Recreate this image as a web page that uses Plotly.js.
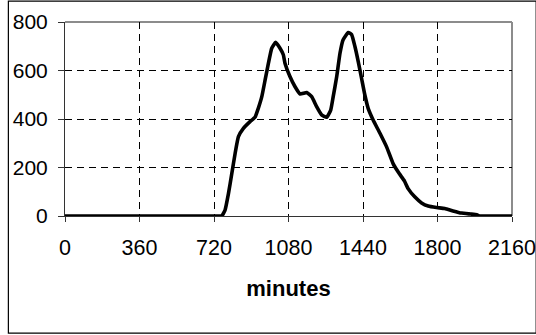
<!DOCTYPE html>
<html>
<head>
<meta charset="utf-8">
<script src="https://cdn.plot.ly/plotly-3.0.1.min.js"></script>
<style>html,body{margin:0;padding:0;background:#fff;}#chart{width:536px;height:335px;}</style>
</head>
<body>
<div id="chart"></div>
<script>
const minutes = [0, 360, 720, 745, 757, 773, 790, 806, 822, 838, 862, 894, 918, 934, 951, 967, 983, 999, 1018, 1039, 1055, 1063, 1087, 1111, 1136, 1168, 1192, 1216, 1240, 1264, 1284, 1296, 1313, 1329, 1344, 1369, 1385, 1401, 1417, 1433, 1449, 1465, 1489, 1522, 1554, 1586, 1615, 1640, 1658, 1690, 1723, 1755, 1795, 1835, 1875, 1916, 1960, 1990, 2005, 2080, 2160];
const counts  = [0, 0, 0, 0, 0, 23, 93, 175, 258, 327, 361, 389, 407, 444, 492, 561, 630, 692, 716, 692, 665, 630, 575, 534, 503, 509, 492, 451, 417, 407, 437, 492, 575, 672, 727, 757, 748, 699, 637, 568, 499, 444, 396, 341, 285, 215, 175, 145, 113, 79, 54, 41, 35, 31, 21, 12, 8, 5, 0, 0, 0];
const xTicks = [0, 360, 720, 1080, 1440, 1800, 2160];
const yTicks = [0, 200, 400, 600, 800];

const L = 64.7, R = 536 - 512.3, T = 22.3, B = 335 - 215.7;
const W = 536 - L - R, H = 335 - T - B;
const px = v => (v - L) / W;
const py = v => (335 - B - v) / H;
const FONT = '"Liberation Sans", Arial, sans-serif';

const trace = {
  x: minutes, y: counts, type: 'scatter', mode: 'lines',
  line: {color: '#000', width: 3.6, shape: 'spline', smoothing: 0.4},
  cliponaxis: false, hoverinfo: 'skip'
};

const layout = {
  width: 536, height: 335,
  margin: {l: L, r: R, t: T, b: B, pad: 0},
  paper_bgcolor: '#fff', plot_bgcolor: '#fff',
  showlegend: false,
  font: {family: FONT, color: '#000'},
  xaxis: {
    range: [0, 2160], tickvals: xTicks, ticktext: xTicks.map(String),
    showgrid: true, gridcolor: '#000', gridwidth: 1, griddash: '7px,5px',
    showline: true, linecolor: '#333', linewidth: 1,
    ticks: 'outside', ticklen: 5, tickcolor: '#333', tickwidth: 1,
    ticklabelstandoff: 7, ticklabeloverflow: 'allow',
    tickfont: {size: 21.5, family: FONT, color: '#000'},
    zeroline: false, fixedrange: true, automargin: false,
    title: {text: '<b>minutes</b>', font: {size: 22, family: FONT, color: '#000'}, standoff: 21}
  },
  yaxis: {
    range: [0, 800], tickvals: yTicks, ticktext: yTicks.map(String),
    showgrid: true, gridcolor: '#000', gridwidth: 1, griddash: '7px,5px',
    showline: true, linecolor: '#333', linewidth: 1,
    ticks: 'outside', ticklen: 6, tickcolor: '#333', tickwidth: 1,
    ticklabelstandoff: 6, ticklabeloverflow: 'allow',
    tickfont: {size: 21, family: FONT, color: '#000'},
    zeroline: false, fixedrange: true, automargin: false
  },
  shapes: [
    {type: 'line', xref: 'paper', yref: 'paper', x0: 0, x1: 1, y0: 1, y1: 1, line: {color: '#8c8c8c', width: 2}, layer: 'below'},
    {type: 'line', xref: 'paper', yref: 'paper', x0: 1, x1: 1, y0: 0, y1: 1, line: {color: '#8c8c8c', width: 2}, layer: 'below'},
    {type: 'rect', xref: 'paper', yref: 'paper', x0: px(8), x1: px(536.5), y0: py(332.5), y1: py(1.5), line: {color: '#000', width: 1.2}, fillcolor: 'rgba(0,0,0,0)', layer: 'above'}
  ]
};

Plotly.newPlot('chart', [trace], layout, {staticPlot: true, displayModeBar: false});
</script>
</body>
</html>
